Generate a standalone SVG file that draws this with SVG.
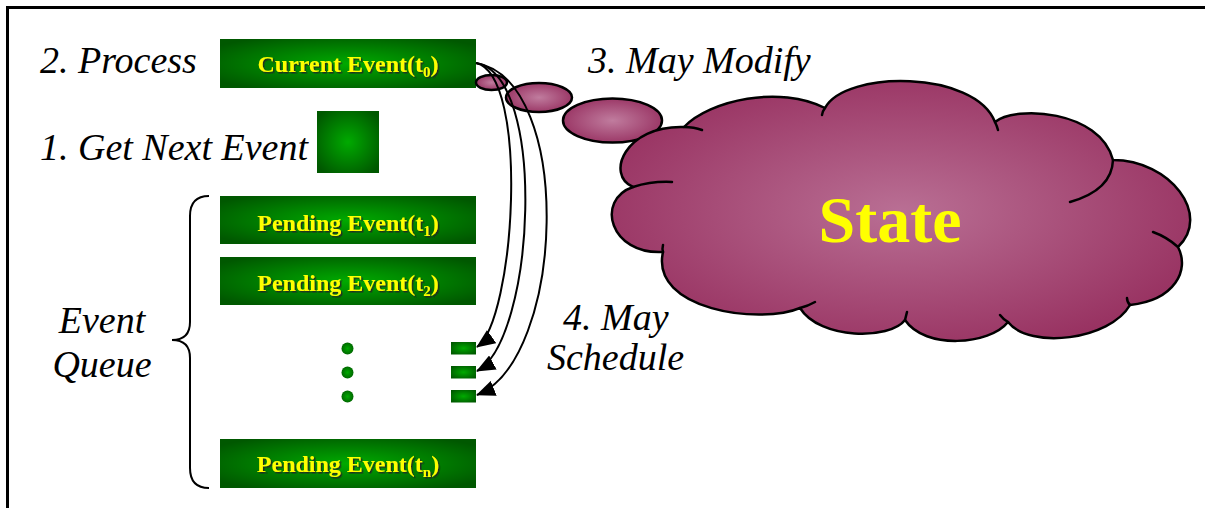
<svg xmlns="http://www.w3.org/2000/svg" width="1205" height="508" viewBox="0 0 1205 508">
<style>
.lbl{font-family:"Liberation Serif","Times New Roman",serif;font-style:italic;font-size:38px;fill:#000}
.ev{font-family:"Liberation Serif","Times New Roman",serif;font-weight:bold;font-size:24px;fill:#FFFF00;text-anchor:middle;filter:url(#sh)}
.sub{font-size:15px}
.box{fill:url(#gb)}
.conn{fill:none;stroke:#000;stroke-width:2}
.cl{fill:none;stroke:#000;stroke-width:2.5;stroke-linecap:round}
</style>
<defs>
<radialGradient id="gb" cx="0.5" cy="0.5" r="0.62">
<stop offset="0" stop-color="#00AA00"/>
<stop offset="1" stop-color="#005800"/>
</radialGradient>
<radialGradient id="gc" cx="0.5" cy="0.5" r="0.6">
<stop offset="0" stop-color="#B96F94"/>
<stop offset="1" stop-color="#962E5E"/>
</radialGradient>
<radialGradient id="ge" cx="0.5" cy="0.5" r="0.55">
<stop offset="0" stop-color="#C07C9E"/>
<stop offset="1" stop-color="#983262"/>
</radialGradient>
<filter id="sh" x="-10%" y="-20%" width="120%" height="150%">
<feDropShadow dx="1.5" dy="1.5" stdDeviation="0.4" flood-color="#202020" flood-opacity="0.9"/>
</filter>
<marker id="ah" markerUnits="userSpaceOnUse" markerWidth="20" markerHeight="16" refX="18" refY="8" orient="auto">
<path d="M0,0 L19,8 L0,16 Z" fill="#000"/>
</marker>
</defs>
<rect width="1205" height="508" fill="#fff"/>
<path d="M7.5,508 V7.5 H1205" fill="none" stroke="#000" stroke-width="3"/>

<g id="label-process"><text class="lbl" x="40" y="73">2. Process</text></g>
<g id="label-getnext"><text class="lbl" x="40" y="160">1. Get Next Event</text></g>
<g id="label-modify"><text class="lbl" x="588" y="73">3. May Modify</text></g>
<g id="label-schedule"><text class="lbl" x="563" y="330">4. May</text><text class="lbl" x="547" y="370">Schedule</text></g>
<g id="label-queue"><text class="lbl" x="102" y="333" text-anchor="middle">Event</text><text class="lbl" x="102" y="377" text-anchor="middle">Queue</text></g>

<g id="current-event"><rect class="box" x="220" y="39" width="256" height="49"/><text class="ev" x="348" y="72">Current Event(t<tspan class="sub" dy="5">0</tspan><tspan dy="-5">)</tspan></text></g>
<g id="next-event"><rect class="box" x="317" y="111" width="62" height="62"/></g>
<g id="pending-1"><rect class="box" x="220" y="196" width="256" height="48"/><text class="ev" x="348" y="231">Pending Event(t<tspan class="sub" dy="5">1</tspan><tspan dy="-5">)</tspan></text></g>
<g id="pending-2"><rect class="box" x="220" y="257" width="256" height="48"/><text class="ev" x="348" y="291">Pending Event(t<tspan class="sub" dy="5">2</tspan><tspan dy="-5">)</tspan></text></g>
<g id="pending-n"><rect class="box" x="220" y="439" width="256" height="49"/><text class="ev" x="348" y="472">Pending Event(t<tspan class="sub" dy="5">n</tspan><tspan dy="-5">)</tspan></text></g>
<g id="dots"><circle cx="347.5" cy="348.5" r="6" fill="url(#gb)"/><circle cx="347.5" cy="372.5" r="6" fill="url(#gb)"/><circle cx="347.5" cy="396.5" r="6" fill="url(#gb)"/></g>
<g id="new-events"><rect class="box" x="451" y="342" width="25" height="12.5"/><rect class="box" x="451" y="366" width="25" height="12.5"/><rect class="box" x="451" y="390" width="25" height="12.5"/></g>
<g id="brace"><path d="M209,196 Q190,196 190,216 L190,322 Q190,340 172,340 Q190,340 190,358 L190,468 Q190,488 209,488" fill="none" stroke="#000" stroke-width="2"/></g>

<g id="bubbles">
<ellipse cx="491.5" cy="82.5" rx="15.5" ry="7.5" fill="url(#ge)" stroke="#000" stroke-width="2.5"/>
<ellipse cx="539" cy="97.5" rx="33" ry="14.5" fill="url(#ge)" stroke="#000" stroke-width="2.5"/>
<ellipse cx="612.5" cy="120.5" rx="49.5" ry="22" fill="url(#ge)" stroke="#000" stroke-width="2.5"/>
</g>

<g id="state">
<path d="M633,187 C605,175 625,125 684,127 C710,100 780,85 825,108 C845,70 975,70 995,122 C1015,105 1100,110 1113,160 C1170,160 1212,215 1178,247 C1190,270 1175,300 1130,305 C1110,340 1030,350 1008,322 C990,345 925,350 905,320 C890,340 820,340 800,308 C760,325 650,310 663,252 C610,255 595,200 633,187 Z" fill="url(#gc)" stroke="#000" stroke-width="2.5" stroke-linejoin="round"/>
<path class="cl" d="M684,127 Q694,127 702,130"/>
<path class="cl" d="M633,187 Q652,181 672,182"/>
<path class="cl" d="M663,252 Q662,249 663,245"/>
<path class="cl" d="M800,308 Q808,306 815,302"/>
<path class="cl" d="M825,108 Q822,112 822,115"/>
<path class="cl" d="M995,122 Q997,126 998,130"/>
<path class="cl" d="M1113,160 Q1112,190 1070,202"/>
<path class="cl" d="M1178,247 Q1167,237 1153,232"/>
<path class="cl" d="M1130,305 Q1127,302 1127,298"/>
<path class="cl" d="M1008,322 Q1003,319 1000,315"/>
<path class="cl" d="M905,320 Q906,316 907,312"/>
<text x="890" y="242" text-anchor="middle" font-family="'Liberation Serif','Times New Roman',serif" font-weight="bold" font-size="66" fill="#FFFF00">State</text>
</g>

<g id="connectors">
<path class="conn" d="M476,63 C530,75 515,320 477,347" marker-end="url(#ah)"/>
<path class="conn" d="M476,63 C548,75 535,340 477,371" marker-end="url(#ah)"/>
<path class="conn" d="M476,63 C575,80 565,360 477,395" marker-end="url(#ah)"/>
</g>
</svg>
